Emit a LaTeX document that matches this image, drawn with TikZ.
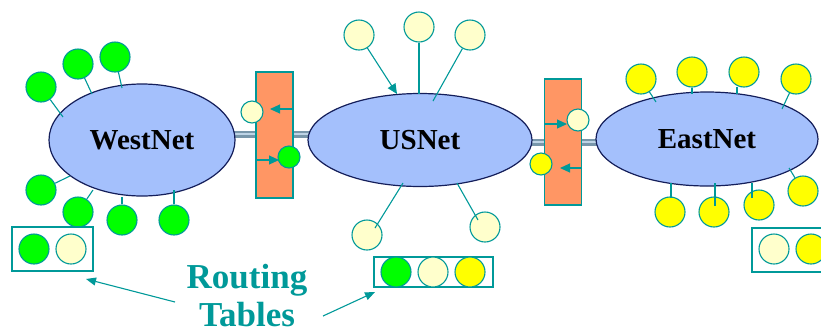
\documentclass[tikz,border=0pt]{standalone}
\usepackage{fontspec}
\setmainfont{Liberation Serif}
\usetikzlibrary{shapes.geometric,arrows.meta}
\definecolor{teal1}{RGB}{0,153,153}
\definecolor{netblue}{RGB}{164,192,252}
\definecolor{navy1}{RGB}{20,30,90}
\definecolor{grn}{RGB}{0,255,0}
\definecolor{yel}{RGB}{255,255,0}
\definecolor{lyel}{RGB}{255,255,204}
\definecolor{orng}{RGB}{255,150,100}
\definecolor{tubeout}{RGB}{120,150,170}
\definecolor{tubein}{RGB}{190,212,230}
\tikzset{
  net/.style={ellipse,draw=navy1,line width=1.2pt,fill=netblue,inner sep=0pt,font=\bfseries\fontsize{29}{30}\selectfont},
  host/.style={circle,draw=teal1,line width=1.1pt,minimum size=30pt,inner sep=0pt},
  rhost/.style={circle,draw=teal1,line width=1.1pt,minimum size=22pt,inner sep=0pt},
  router/.style={rectangle,draw=teal1,line width=1.1pt,fill=orng,minimum width=37pt,minimum height=126pt,inner sep=0pt},
  table/.style={rectangle,draw=teal1,line width=1.3pt,fill=white,inner sep=0pt},
  link/.style={draw=teal1,line width=1.1pt},
  rarrow/.style={draw=teal1,line width=1.1pt,-{Triangle[length=10pt,width=9pt]}},
  tarrow/.style={draw=teal1,line width=1.1pt,-{Triangle[length=10pt,width=8pt]}},
  tubeo/.style={draw=tubeout,line width=7pt},
  tubei/.style={draw=tubein,line width=2.5pt},
  lbl/.style={text=teal1,font=\bfseries\fontsize{35}{36}\selectfont,anchor=base,inner sep=0pt}
}
\begin{document}
\begin{tikzpicture}[x=1pt,y=-1pt]
\useasboundingbox (0,0) rectangle (821,333);
% tubes
\coordinate (t1a) at (200,134);
\coordinate (t1b) at (350,134);
\coordinate (t2a) at (500,142);
\coordinate (t2b) at (640,142);
\draw[tubeo] (t1a) -- (t1b);
\draw[tubei] (t1a) -- (t1b);
\draw[tubeo] (t2a) -- (t2b);
\draw[tubei] (t2a) -- (t2b);
% networks
\node[net,minimum width=186pt,minimum height=112pt] (wn) at (142,140) {WestNet};
\node[net,minimum width=224pt,minimum height=93pt] (us) at (420,140) {USNet};
\node[net,minimum width=222pt,minimum height=94pt] (en) at (707,139) {EastNet};
% routers
\node[router] (r1) at (274.5,135) {};
\node[router] (r2) at (563,142) {};
\coordinate (a1s) at (293,109); \coordinate (a1e) at (270,109);
\coordinate (a2s) at (256,160); \coordinate (a2e) at (279,160);
\draw[rarrow] (a1s) -- (a1e);
\draw[rarrow] (a2s) -- (a2e);
\coordinate (a3s) at (544,124); \coordinate (a3e) at (567,124);
\coordinate (a4s) at (582,168); \coordinate (a4e) at (560,168);
\draw[rarrow] (a3s) -- (a3e);
\draw[rarrow] (a4s) -- (a4e);
\node[rhost,fill=lyel] (r1a) at (252,112) {};
\node[rhost,fill=grn] (r1b) at (289,157) {};
\node[rhost,fill=lyel] (r2a) at (578,120) {};
\node[rhost,fill=yel] (r2b) at (541,164) {};
% West hosts
\node[host,fill=grn] (w1) at (41,87) {};
\node[host,fill=grn] (w2) at (78,64) {};
\node[host,fill=grn] (w3) at (115,57) {};
\node[host,fill=grn] (w4) at (41,190) {};
\node[host,fill=grn] (w5) at (78,212) {};
\node[host,fill=grn] (w6) at (122,220) {};
\node[host,fill=grn] (w7) at (174,220) {};
\coordinate (wp1) at (63,117);
\coordinate (wp2) at (92,94);
\coordinate (wp3) at (122,88);
\coordinate (wp4) at (70,176);
\coordinate (wp5) at (93,190);
\coordinate (wp6) at (122,197);
\coordinate (wp7) at (174,190);
\foreach \i in {1,...,7} {\draw[link] (w\i) -- (wp\i);}
% US hosts
\node[host,fill=lyel] (u1) at (359,35) {};
\node[host,fill=lyel] (u2) at (419,27) {};
\node[host,fill=lyel] (u3) at (470,35) {};
\node[host,fill=lyel] (u4) at (367,235) {};
\node[host,fill=lyel] (u5) at (485,227) {};
\coordinate (up1) at (397,94);
\coordinate (up2) at (419,94);
\coordinate (up3) at (433,101);
\coordinate (up4) at (403,183);
\coordinate (up5) at (457,183);
\coordinate (uq4) at (375,228);
\coordinate (uq5) at (478,220);
\draw[rarrow] (u1) -- (up1);
\draw[link] (u2) -- (up2);
\draw[link] (u3) -- (up3);
\draw[link] (up4) -- (uq4);
\draw[link] (up5) -- (uq5);
% East hosts
\node[host,fill=yel] (e1) at (641,79) {};
\node[host,fill=yel] (e2) at (692,72) {};
\node[host,fill=yel] (e3) at (744,72) {};
\node[host,fill=yel] (e4) at (796,79) {};
\node[host,fill=yel] (e5) at (803,191) {};
\node[host,fill=yel] (e6) at (759,205) {};
\node[host,fill=yel] (e7) at (714,212) {};
\node[host,fill=yel] (e8) at (670,212) {};
\coordinate (ep1) at (656,102);
\coordinate (ep2) at (692,94);
\coordinate (ep3) at (737,94);
\coordinate (ep4) at (782,109);
\coordinate (ep5) at (789,168);
\coordinate (ep6) at (752,183); \coordinate (eq6) at (752,198);
\coordinate (ep7) at (715,183); \coordinate (eq7) at (715,206);
\coordinate (ep8) at (671,183); \coordinate (eq8) at (671,198);
\draw[link] (e1) -- (ep1);
\draw[link] (e2) -- (ep2);
\coordinate (eq3) at (737,87);
\draw[link] (eq3) -- (ep3);
\draw[link] (e4) -- (ep4);
\draw[link] (e5) -- (ep5);
\draw[link] (ep6) -- (eq6);
\draw[link] (ep7) -- (eq7);
\draw[link] (ep8) -- (eq8);
% routing tables
\node[table,minimum width=81pt,minimum height=44pt] (tw) at (52.5,249) {};
\node[host,fill=grn] (tw1) at (34,249) {};
\node[host,fill=lyel] (tw2) at (71,249) {};
\node[table,minimum width=119pt,minimum height=30pt] (tu) at (433.5,272) {};
\node[host,fill=grn] (tu1) at (396,272) {};
\node[host,fill=lyel] (tu2) at (433,272) {};
\node[host,fill=yel] (tu3) at (470,272) {};
\node[table,minimum width=90pt,minimum height=44pt] (te) at (797,250) {};
\node[host,fill=lyel] (te1) at (774,249) {};
\node[host,fill=yel] (te2) at (811,249) {};
% label
\node[lbl] (rt) at (247,288) {Routing};
\node[lbl] (tb) at (247,326) {Tables};
\coordinate (la) at (175,302);
\coordinate (lae) at (86,279);
\coordinate (lb) at (323,316);
\coordinate (lbe) at (375,292);
\draw[tarrow] (la) -- (lae);
\draw[tarrow] (lb) -- (lbe);
\end{tikzpicture}
\end{document}
